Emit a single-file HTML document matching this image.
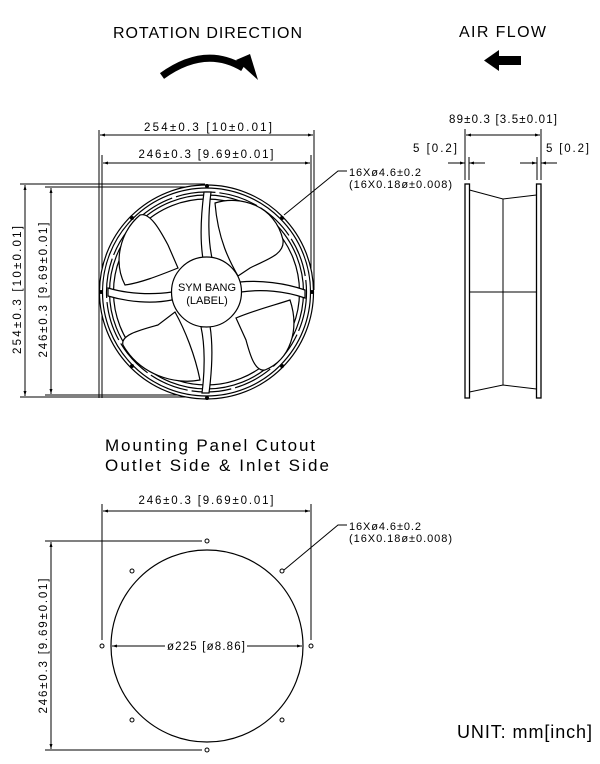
<!DOCTYPE html>
<html><head><meta charset="utf-8"><style>
html,body{margin:0;padding:0;background:#fff;}
svg{display:block;}
text{font-family:"Liberation Sans","DejaVu Sans",sans-serif;fill:#000;}
</style></head><body>
<svg width="600" height="764" viewBox="0 0 600 764" xmlns="http://www.w3.org/2000/svg">
<defs>
<marker id="a" viewBox="0 0 10 6" refX="10" refY="3" markerWidth="6" markerHeight="3" orient="auto-start-reverse"><path d="M0,0 L10,3 L0,6z" fill="#000"/></marker>
</defs>
<text x="113" y="38" font-size="16" textLength="189">ROTATION DIRECTION</text>
<text x="459" y="37" font-size="16" textLength="87">AIR FLOW</text>
<path d="M162,76 Q205,45 243,68" stroke="#000" stroke-width="7" fill="none"/>
<path d="M236,60 L258,80 L250,54 Z" fill="#000"/>
<rect x="497" y="56" width="24" height="9" fill="#000"/>
<path d="M484,60.5 L499,50 L499,71 Z" fill="#000"/>

<g stroke="#000" fill="none" stroke-width="1">
<line x1="99" y1="130" x2="99" y2="398"/>
<line x1="102" y1="155" x2="102" y2="398"/>
<line x1="314" y1="130" x2="314" y2="290"/>
<line x1="311" y1="155" x2="311" y2="290"/>
<line x1="100" y1="135" x2="313" y2="135" marker-start="url(#a)" marker-end="url(#a)"/>
<line x1="103" y1="163" x2="310" y2="163" marker-start="url(#a)" marker-end="url(#a)"/>
<line x1="20" y1="184" x2="205" y2="184"/>
<line x1="45" y1="187" x2="205" y2="187"/>
<line x1="20" y1="397" x2="205" y2="397"/>
<line x1="45" y1="395" x2="205" y2="395"/>
<line x1="25" y1="185" x2="25" y2="396" marker-start="url(#a)" marker-end="url(#a)"/>
<line x1="51" y1="188" x2="51" y2="394" marker-start="url(#a)" marker-end="url(#a)"/>
</g>
<text x="208" y="131" font-size="11.5" text-anchor="middle" textLength="128">254±0.3 [10±0.01]</text>
<text x="206" y="158" font-size="11.5" text-anchor="middle" textLength="135">246±0.3 [9.69±0.01]</text>
<text transform="translate(21,290) rotate(-90)" font-size="11.5" text-anchor="middle" textLength="128">254±0.3 [10±0.01]</text>
<text transform="translate(47,290) rotate(-90)" font-size="11.5" text-anchor="middle" textLength="135">246±0.3 [9.69±0.01]</text>

<g stroke="#000" fill="#fff" stroke-width="1.2">
<circle cx="206.5" cy="292" r="107"/>
<circle cx="206.5" cy="292" r="104" fill="none"/>
<circle cx="206.5" cy="292" r="100" fill="none" stroke-dasharray="40 4"/>
<circle cx="206.5" cy="292" r="97" fill="none"/>
<circle cx="206.5" cy="292" r="93" fill="none"/>
<path d="M215,203 C240,195 275,205 283,240 C285,255 265,260 250,268 L238,276 C230,262 218,240 215,203 Z"/>
<path d="M290,300 C300,330 290,360 265,370 C255,372 250,355 246,340 L236,318 C255,310 275,305 290,300 Z"/>
<path d="M200,380 C175,385 140,375 123,345 C120,335 140,330 158,325 L175,312 C185,330 195,355 200,380 Z"/>
<path d="M125,285 C113,262 120,232 140,215 C150,212 160,230 168,245 L178,268 C158,276 140,283 125,285 Z"/>
<path d="M203,259 C200,240 201,215 204,192 L211,192 C208,215 208,240 212,258 Z"/>
<path d="M240,282 C260,280 285,283 305,290 L305,298 C285,291 262,289 241,292 Z"/>
<path d="M210,326 C213,345 212,370 209,393 L202,393 C205,370 205,345 201,327 Z"/>
<path d="M172,300 C152,304 128,302 108,296 L108,288 C128,294 152,295 172,292 Z"/>
<circle cx="206.5" cy="292" r="35"/>
</g>
<g fill="#000">
<circle cx="207" cy="186" r="2"/><circle cx="207" cy="398" r="2"/>
<circle cx="101" cy="292" r="2"/><circle cx="312" cy="292" r="2"/>
<circle cx="132" cy="218" r="2"/><circle cx="282" cy="218" r="2"/>
<circle cx="132" cy="366" r="2"/><circle cx="282" cy="366" r="2"/>
</g>
<text x="207" y="291" font-size="11" text-anchor="middle">SYM BANG</text>
<text x="207" y="304" font-size="11" text-anchor="middle">(LABEL)</text>
<g stroke="#000" fill="none"><polyline points="284,215 338,171 347,171"/></g>
<text x="349" y="176" font-size="11" textLength="72">16Xø4.6±0.2</text>
<text x="349" y="188" font-size="11" textLength="103">(16X0.18ø±0.008)</text>

<g stroke="#000" fill="none" stroke-width="1">
<line x1="465" y1="129" x2="465" y2="180"/>
<line x1="541" y1="129" x2="541" y2="180"/>
<line x1="466" y1="135" x2="540" y2="135" marker-start="url(#a)" marker-end="url(#a)"/>
<line x1="469" y1="157" x2="469" y2="180"/>
<line x1="537" y1="157" x2="537" y2="180"/>
<line x1="448" y1="163" x2="465" y2="163" marker-end="url(#a)"/>
<line x1="485" y1="163" x2="469" y2="163" marker-end="url(#a)"/>
<line x1="520" y1="163" x2="537" y2="163" marker-end="url(#a)"/>
<line x1="557" y1="163" x2="541" y2="163" marker-end="url(#a)"/>
<rect x="465" y="184" width="4.5" height="214" stroke-width="1.3"/>
<rect x="536.5" y="184" width="4.5" height="214" stroke-width="1.3"/>
<polyline points="469.5,190 503,199 536.5,195"/>
<polyline points="469.5,392 503,385 536.5,389"/>
<line x1="503" y1="199" x2="503" y2="385"/>
<line x1="469.5" y1="292" x2="536.5" y2="292"/>
</g>
<text x="503" y="123" font-size="11.5" text-anchor="middle" textLength="108">89±0.3 [3.5±0.01]</text>
<text x="413" y="152" font-size="11.5" textLength="44">5 [0.2]</text>
<text x="546" y="152" font-size="11.5" textLength="43">5 [0.2]</text>

<text x="105" y="451" font-size="17" textLength="210">Mounting Panel Cutout</text>
<text x="105" y="471" font-size="17" textLength="224">Outlet Side &amp; Inlet Side</text>
<g stroke="#000" fill="none" stroke-width="1">
<line x1="102" y1="504" x2="102" y2="640"/>
<line x1="311" y1="504" x2="311" y2="640"/>
<line x1="103" y1="511" x2="310" y2="511" marker-start="url(#a)" marker-end="url(#a)"/>
<line x1="45" y1="541" x2="202" y2="541"/>
<line x1="45" y1="750" x2="202" y2="750"/>
<line x1="51" y1="542" x2="51" y2="749" marker-start="url(#a)" marker-end="url(#a)"/>
<circle cx="207" cy="646" r="96" stroke-width="1.2"/>
<line x1="112" y1="646" x2="165" y2="646" marker-start="url(#a)"/>
<line x1="247" y1="646" x2="302" y2="646" marker-end="url(#a)"/>
<circle cx="207" cy="541" r="2"/><circle cx="207" cy="750" r="2"/>
<circle cx="102" cy="646" r="2"/><circle cx="311" cy="646" r="2"/>
<circle cx="132" cy="571" r="2"/><circle cx="282" cy="571" r="2"/>
<circle cx="132" cy="720" r="2"/><circle cx="282" cy="720" r="2"/>
<polyline points="284,570 338,525 347,525"/>
</g>
<text x="206" y="504" font-size="11.5" text-anchor="middle" textLength="135">246±0.3 [9.69±0.01]</text>
<text transform="translate(47,646) rotate(-90)" font-size="11.5" text-anchor="middle" textLength="135">246±0.3 [9.69±0.01]</text>
<text x="206" y="650" font-size="11.5" text-anchor="middle" textLength="78">ø225 [ø8.86]</text>
<text x="349" y="530" font-size="11" textLength="72">16Xø4.6±0.2</text>
<text x="349" y="542" font-size="11" textLength="103">(16X0.18ø±0.008)</text>
<text x="457" y="738" font-size="18" textLength="135">UNIT: mm[inch]</text>
</svg>
</body></html>
